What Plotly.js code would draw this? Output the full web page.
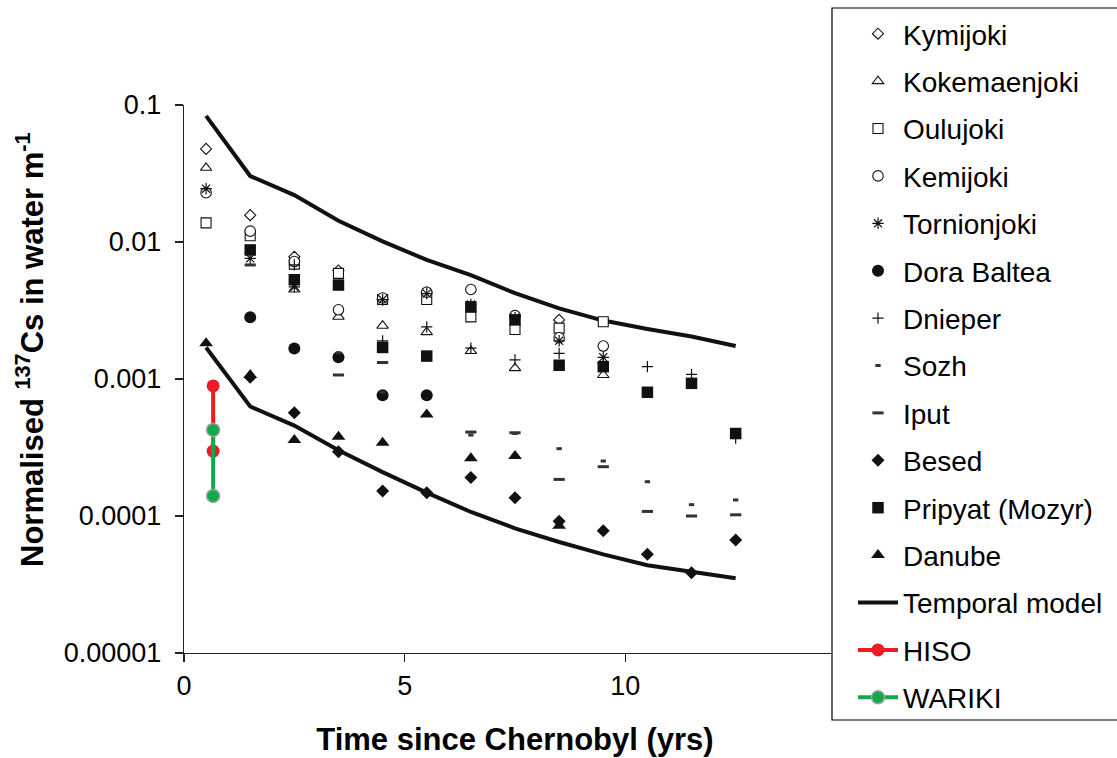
<!DOCTYPE html>
<html>
<head>
<meta charset="utf-8">
<script src="https://cdn.plot.ly/plotly-3.0.1.min.js"></script>
<style>
  html, body { margin: 0; padding: 0; background: #fff; }
  #chart { width: 1117px; height: 758px; }
</style>
</head>
<body>
<div id="chart"></div>
<script>
// Years since the Chernobyl accident at which the river data are plotted
const years = [0.5, 1.5, 2.5, 3.5, 4.5, 5.5, 6.5, 7.5, 8.5, 9.5, 10.5, 11.5, 12.5];

// Normalised 137Cs activity in river water (m^-1), one value per year (null = no data)
const kymijoki     = [0.0478, 0.0157, 0.0078, 0.0062, 0.0038, 0.0043, null, null, 0.0027, null, null, null, null];
const kokemaenjoki = [0.0348, null, 0.0045, 0.00285, 0.00245, 0.0022, 0.0016, 0.0012, null, 0.00107, null, null, null];
const oulujoki     = [0.0138, 0.0111, 0.0069, 0.0059, 0.0038, 0.0038, 0.00284, 0.0023, 0.00235, 0.00262, null, null, null];
const kemijoki     = [0.0229, 0.0120, 0.0072, 0.0032, 0.0039, 0.0043, 0.0045, 0.0029, 0.0020, 0.00174, null, null, null];
const tornionjoki  = [0.0245, 0.0076, 0.0047, null, 0.0038, 0.0042, 0.0035, 0.0028, 0.0019, 0.00144, null, null, null];
const doraBaltea   = [null, 0.00282, 0.00167, 0.00144, 0.00076, 0.00076, null, null, null, null, null, null, null];
const dnieper      = [null, null, 0.0068, null, 0.0019, 0.0024, 0.00168, 0.00138, 0.00154, 0.0013, 0.00123, 0.00108, 0.00037];
const sozh         = [null, null, null, 0.00155, 0.0008, null, 0.00039, 0.0004, 0.00031, 0.000252, 0.000178, 0.000121, 0.000131];
const iput         = [null, 0.0068, null, 0.00107, 0.00132, null, 0.00041, 0.000405, 0.000185, 0.000229, 0.000108, 0.0001, 0.000102];
const besed        = [null, 0.00103, 0.000568, 0.000295, 0.000152, 0.000148, 0.000191, 0.000136, 0.0000915, 0.0000782, 0.0000525, 0.0000385, 0.0000668];
const pripyat      = [null, 0.00875, 0.0053, 0.00485, 0.0017, 0.00147, 0.00336, 0.0027, 0.00126, 0.00123, 0.0008, 0.00093, 0.0004];
const danube       = [0.00182, 0.00107, 0.000359, 0.000379, 0.000343, 0.00055, 0.000264, 0.000274, 0.000085, null, null, null, null];

// Temporal model: upper and lower envelopes
const modelUpper = [0.0832, 0.0303, 0.0220, 0.0143, 0.0101, 0.0074, 0.00574, 0.00423, 0.00328, 0.00267, 0.00232, 0.00204, 0.00174];
const modelLower = [0.0017, 0.00063, 0.000457, 0.000302, 0.000209, 0.000148, 0.000107, 0.0000813, 0.0000646, 0.0000525, 0.0000437, 0.0000389, 0.0000351];

// Fukushima river observations (range at one time point)
const hisoX = [0.66, 0.66];
const hisoY = [0.00089, 0.000298];
const warikiX = [0.66, 0.66];
const warikiY = [0.000425, 0.00014];

// Axis ticks
const xTickVals = [0, 5, 10];
const xTickText = ['0', '5', '10'];
const yTickVals = [0.00001, 0.0001, 0.001, 0.01, 0.1];
const yTickText = ['0.00001', '0.0001', '0.001', '0.01', '0.1'];

const FONT = 'Liberation Sans, Arial, sans-serif';
const INK = '#111';

function pts(name, y, rank, marker) {
  return {
    type: 'scatter', mode: 'markers', name: name, x: years, y: y,
    legendgroup: name, legendrank: rank, marker: marker, cliponaxis: false
  };
}
const openMk = (symbol, size) => ({ symbol, size, color: '#fff', line: { color: INK, width: 1.1 } });
const solidMk = (symbol, size) => ({ symbol, size, color: INK, line: { color: INK, width: 0 } });

const traces = [
  { type: 'scatter', mode: 'lines', name: 'Temporal model', x: years, y: modelUpper,
    legendgroup: 'model', legendrank: 13, line: { color: INK, width: 4 } },
  { type: 'scatter', mode: 'lines', name: 'Temporal model', x: years, y: modelLower,
    legendgroup: 'model', legendrank: 13, showlegend: false, line: { color: INK, width: 4 } },
  pts('Kymijoki', kymijoki, 1, openMk('diamond', 8.5)),
  pts('Kokemaenjoki', kokemaenjoki, 2, openMk('triangle-up', 10)),
  pts('Oulujoki', oulujoki, 3, openMk('square', 10)),
  pts('Kemijoki', kemijoki, 4, openMk('circle', 10.5)),
  pts('Tornionjoki', tornionjoki, 5, { symbol: 'asterisk-open', size: 9.5, color: INK, line: { color: INK, width: 1.2 } }),
  pts('Dora Baltea', doraBaltea, 6, solidMk('circle', 12)),
  pts('Dnieper', dnieper, 7, { symbol: 'cross-thin-open', size: 8, color: INK, line: { color: INK, width: 1.2 } }),
  pts('Sozh', sozh, 8, { symbol: 'line-ew-open', size: 3.8, color: '#333', line: { color: '#333', width: 3 } }),
  pts('Iput', iput, 9, { symbol: 'line-ew-open', size: 8, color: '#333', line: { color: '#333', width: 3 } }),
  pts('Besed', besed, 10, solidMk('diamond', 10)),
  pts('Pripyat (Mozyr)', pripyat, 11, solidMk('square', 11.5)),
  pts('Danube', danube, 12, solidMk('triangle-up', 12)),
  { type: 'scatter', mode: 'lines+markers', name: 'HISO', x: hisoX, y: hisoY,
    legendgroup: 'HISO', legendrank: 14,
    line: { color: '#ec1c24', width: 4 },
    marker: { symbol: 'circle', size: 13, color: '#ec1c24', line: { color: '#ec1c24', width: 0 } } },
  { type: 'scatter', mode: 'lines+markers', name: 'WARIKI', x: warikiX, y: warikiY,
    legendgroup: 'WARIKI', legendrank: 15,
    line: { color: '#12a84b', width: 4 },
    marker: { symbol: 'circle', size: 13, color: '#12a84b', line: { color: '#a0a0a0', width: 1.5 } } }
];

const L = 184, R = 271, T = 105, B = 105;
const plotW = 1117 - L - R, plotH = 758 - T - B;
const px2x = p => (p - L) / plotW;
const px2y = p => (758 - B - p) / plotH;

const layout = {
  width: 1117, height: 758,
  margin: { l: L, r: R, t: T, b: B, pad: 0, autoexpand: false },
  paper_bgcolor: '#fff', plot_bgcolor: '#fff',
  font: { family: FONT, color: '#000', size: 27 },
  showlegend: true,
  xaxis: {
    range: [0, 15], tickvals: xTickVals, ticktext: xTickText,
    ticks: 'outside', ticklen: 8, tickwidth: 1.2, tickcolor: '#222',
    showline: true, linecolor: '#222', linewidth: 1.2,
    showgrid: false, zeroline: false, automargin: false,
    tickfont: { size: 27, family: FONT, color: '#000' },
    title: { text: 'Time since Chernobyl (yrs)', standoff: 28,
             font: { size: 31, family: FONT, weight: 'bold', color: '#000' } }
  },
  yaxis: {
    type: 'log', range: [-5, -1], tickvals: yTickVals, ticktext: yTickText,
    ticks: 'outside', ticklen: 8, tickwidth: 1.2, tickcolor: '#222',
    ticklabelstandoff: 8, automargin: false,
    showline: true, linecolor: '#222', linewidth: 1.2,
    showgrid: false, zeroline: false,
    tickfont: { size: 27, family: FONT, color: '#000' }
  },
  annotations: [{
    xref: 'paper', yref: 'paper', x: px2x(30), y: px2y(350),
    text: 'Normalised <sup>137</sup>Cs in water m<sup>-1</sup>',
    textangle: -90, showarrow: false, xanchor: 'center', yanchor: 'middle',
    font: { size: 31, family: FONT, weight: 'bold', color: '#000' }
  }],
  shapes: [{
    type: 'rect', xref: 'paper', yref: 'paper', layer: 'above',
    x0: px2x(832), x1: px2x(1140), y0: px2y(720), y1: px2y(8),
    fillcolor: '#fff', line: { color: '#000', width: 1.2 }
  }],
  legend: {
    x: px2x(853), y: px2y(9), xanchor: 'left', yanchor: 'top',
    bgcolor: 'rgba(0,0,0,0)', borderwidth: 0, maxheight: 748,
    font: { size: 28, family: FONT, color: '#000' },
    itemwidth: 40, tracegroupgap: 8, traceorder: 'grouped'
  }
};

Plotly.newPlot('chart', traces, layout, { displayModeBar: false, staticPlot: true });
</script>
</body>
</html>
